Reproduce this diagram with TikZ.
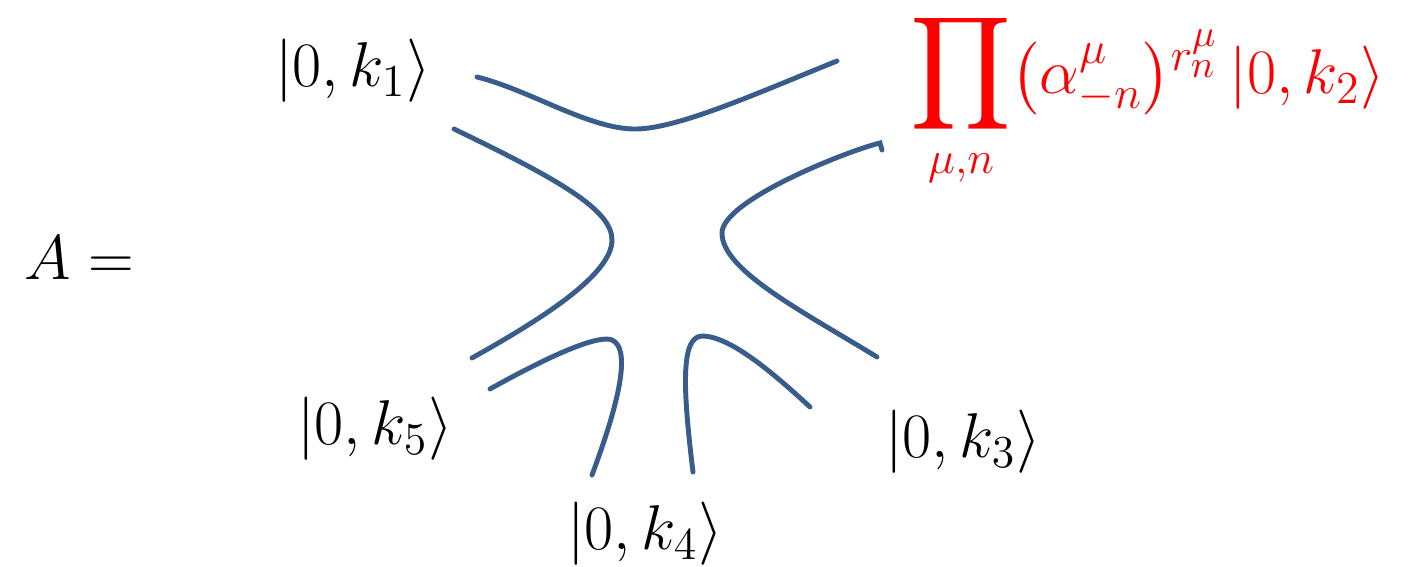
\RequirePackage{fix-cm}
\documentclass[tikz,border=0pt]{standalone}
\usepackage{xcolor}
\usepackage{amsmath}
\usepackage{graphicx}
\DeclareMathSizes{18}{18}{13}{11}
\definecolor{stringblue}{HTML}{385D8A}
\begin{document}
\begin{tikzpicture}[x=0.01cm, y=-0.01cm, every node/.style={font=\fontsize{18}{21}\selectfont, inner sep=0pt}, worldsheet/.style={draw=stringblue, line width=1.4pt, line cap=round}]
  \useasboundingbox (0,0) rectangle (1417,567);
  \node[anchor=base] (lhs) at (79,280) {$A=$};
  \node[anchor=base] (k1) at (353,87) {$|0,k_1\rangle$};
  \node[anchor=base west, text=red] (k2) at (910,94) {$\displaystyle\mathop{\scalebox{1.3}{$\displaystyle\prod$}}_{\mu,n}\bigl(\alpha^{\mu}_{-n}\bigr)^{\raisebox{-3.5pt}{$\scriptstyle r^{\mu}_{n}$}}\,|0,k_2\rangle$};
  \node[anchor=base] (k3) at (963,458) {$|0,k_3\rangle$};
  \node[anchor=base] (k4) at (645,550) {$|0,k_4\rangle$};
  \node[anchor=base] (k5) at (375,445) {$|0,k_5\rangle$};
  \draw[worldsheet] (477,77) .. controls (530,90) and (590,130) .. (637,129) .. controls (680,128) and (760,92) .. (837,61);
  \draw[worldsheet] (454,129) .. controls (560,180) and (612,210) .. (612,240) .. controls (612,275) and (540,320) .. (472,358);
  \draw[worldsheet] (882,150) -- (880,143) .. controls (850,150) and (722,200) .. (722,233) .. controls (722,270) and (800,310) .. (877,357);
  \draw[worldsheet] (490,389) .. controls (560,350) and (600,335) .. (612,340) .. controls (630,348) and (622,395) .. (592,475);
  \draw[worldsheet] (693,472) .. controls (683,390) and (680,335) .. (703,336) .. controls (730,337) and (770,370) .. (810,407);
\end{tikzpicture}
\end{document}
